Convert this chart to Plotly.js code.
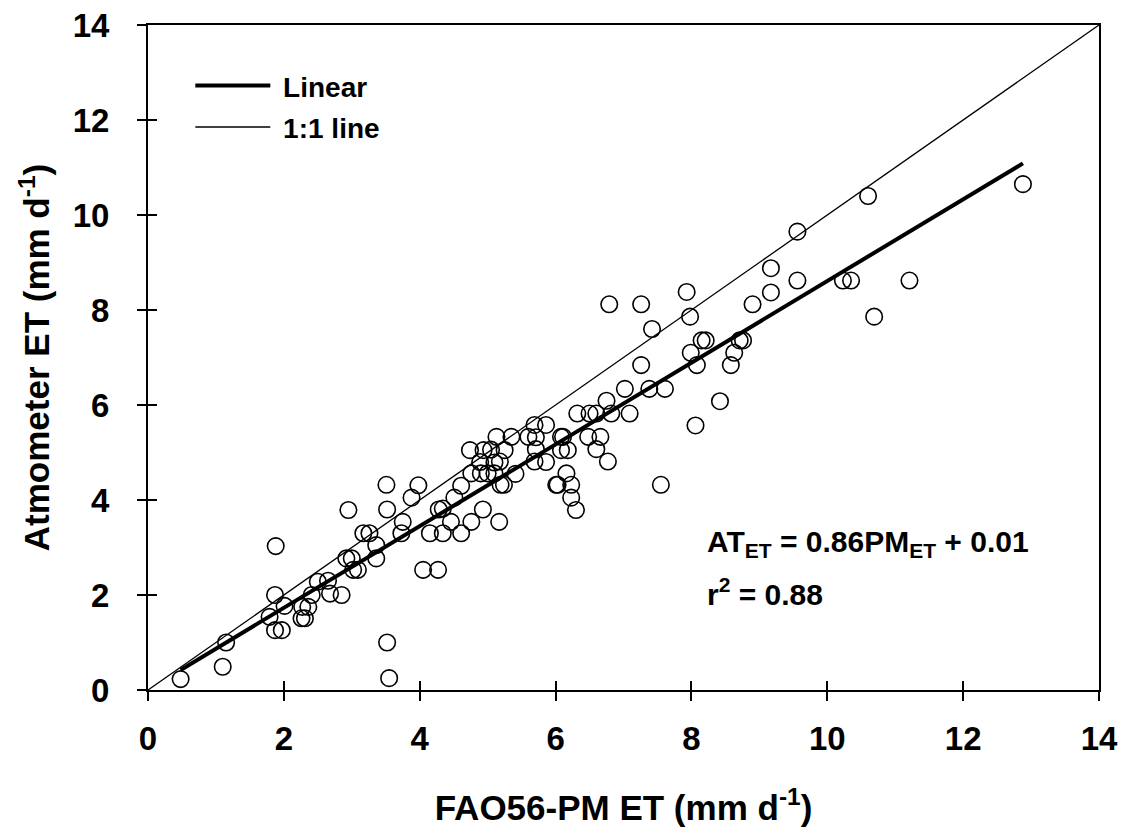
<!DOCTYPE html>
<html>
<head>
<meta charset="utf-8">
<script src="https://cdn.plot.ly/plotly-3.0.1.min.js"></script>
<style>html,body{margin:0;padding:0;background:#fff;}#chart{width:1124px;height:830px;}</style>
</head>
<body>
<div id="chart"></div>
<script>
// FAO56-PM ET (x) vs Atmometer ET (y), mm d-1
const pmET = [
  0.48,1.10,1.15,1.79,1.87,1.97,1.87,1.88,2.01,2.26,2.31,2.27,2.36,2.41,2.50,2.65,2.68,2.85,2.92,3.00,3.02,3.09,2.95,3.17,3.26,3.36,3.36,3.51,3.52,3.52,3.55,
  3.73,3.75,3.88,3.98,4.05,4.27,4.15,4.34,4.28,4.34,4.46,4.51,4.61,4.61,4.76,4.93,5.17,
  4.74,4.94,5.05,5.25,5.13,5.35,4.89,5.10,5.18,4.76,4.90,5.00,5.10,5.19,5.24,5.41,5.60,5.71,5.71,5.69,5.86,5.69,5.86,6.01,6.03,
  6.08,6.11,6.08,6.18,6.16,6.23,6.23,6.30,6.32,6.50,6.60,6.82,7.09,6.75,6.48,6.66,6.60,6.77,7.02,7.26,7.38,7.61,7.42,6.79,7.26,7.55,
  7.93,7.98,7.99,8.08,8.15,8.21,8.06,8.42,8.58,8.63,8.71,8.76,8.90,9.17,9.17,9.56,9.56,10.23,10.35,10.60,10.69,11.21,12.88
];
const atET = [
  0.23,0.49,1.00,1.54,1.26,1.26,2.00,3.03,1.77,1.51,1.51,1.75,1.75,2.00,2.28,2.30,2.03,2.00,2.77,2.77,2.53,2.53,3.79,3.30,3.30,3.05,2.77,4.32,3.80,1.00,0.25,
  3.30,3.54,4.05,4.31,2.53,2.53,3.30,3.30,3.80,3.82,3.54,4.05,4.30,3.30,3.54,3.80,3.54,
  5.05,5.05,5.06,5.05,5.33,5.33,4.80,4.79,4.81,4.56,4.56,4.56,4.56,4.32,4.32,4.55,5.33,5.32,5.07,5.58,5.58,4.81,4.80,4.32,4.32,
  5.33,5.33,5.05,5.05,4.56,4.32,4.05,3.79,5.82,5.82,5.82,5.82,5.82,6.09,5.33,5.33,5.07,4.81,6.34,6.84,6.34,6.34,7.60,8.12,8.12,4.32,
  8.38,7.86,7.10,6.84,7.36,7.36,5.57,6.08,6.84,7.10,7.36,7.36,8.12,8.37,8.88,8.62,9.65,8.62,8.62,10.40,7.86,8.62,10.65
];
// regression from the chart: AT_ET = 0.86 PM_ET + 0.01
const slope = 0.86, intercept = 0.01;
const oneToOne = [0, 14];
const axisTicks = [0, 2, 4, 6, 8, 10, 12, 14];

const xMin = Math.min(...pmET), xMax = Math.max(...pmET);
const fitX = [xMin, xMax];
const fitY = fitX.map(v => slope * v + intercept);

const FONT = 'Liberation Sans, Arial, Helvetica, sans-serif';

const traces = [
  {x: fitX, y: fitY, mode: 'lines', name: '\u00a0<b>Linear</b>', legendgroup: 'a',
   line: {color: '#000', width: 4}, hoverinfo: 'skip'},
  {x: oneToOne, y: oneToOne, mode: 'lines', name: '\u00a0<b>1:1 line</b>', legendgroup: 'b',
   line: {color: '#000', width: 1.3}, hoverinfo: 'skip'},
  {x: pmET, y: atET, mode: 'markers', name: 'data', showlegend: false,
   marker: {symbol: 'circle-open', size: 16.5, color: '#000', line: {width: 1.6, color: '#000'}}},
  {x: [null], y: [null], xaxis: 'x2', yaxis: 'y2', mode: 'markers', showlegend: false, hoverinfo: 'skip'}
];

const axBase = {range: [0, 14], tickvals: axisTicks, showgrid: false, zeroline: false,
  tickwidth: 2, ticklen: 9, tickcolor: '#000', fixedrange: true};

const layout = {
  width: 1124, height: 830,
  margin: {l: 148, r: 25, t: 25, b: 140},
  paper_bgcolor: '#fff', plot_bgcolor: '#fff',
  font: {family: FONT, color: '#000'},
  showlegend: true,
  legend: {x: 0.0445, y: 0.946, xanchor: 'left', yanchor: 'top', bgcolor: 'rgba(0,0,0,0)',
    font: {family: FONT, size: 28, color: '#000'}, itemwidth: 75, traceorder: 'grouped', tracegroupgap: 2},
  xaxis: Object.assign({}, axBase, {ticks: 'outside', showline: true, linecolor: '#000', linewidth: 2, mirror: true,
    tickfont: {family: FONT, size: 33, color: '#000', weight: 'bold'}, ticklabelstandoff: 9,
    title: {text: '<b>FAO56-PM ET (mm d<sup>-1</sup>)</b>', font: {family: FONT, size: 35, color: '#000'}, standoff: 40}}),
  yaxis: Object.assign({}, axBase, {ticks: 'outside', showline: true, linecolor: '#000', linewidth: 2, mirror: true,
    tickfont: {family: FONT, size: 33, color: '#000', weight: 'bold'}, ticklabelstandoff: 21,
    title: {text: '<b>Atmometer ET (mm d<sup>-1</sup>)</b>', font: {family: FONT, size: 35, color: '#000'}, standoff: 12}}),
  xaxis2: Object.assign({}, axBase, {overlaying: 'x', anchor: 'y2', side: 'bottom', ticks: 'inside', showticklabels: false, showline: false}),
  yaxis2: Object.assign({}, axBase, {overlaying: 'y', anchor: 'x2', side: 'left', ticks: 'inside', showticklabels: false, showline: false}),
  annotations: [
    {xref: 'x', yref: 'y', x: 8.2, y: 3.09, xanchor: 'left', yanchor: 'middle', showarrow: false,
     text: '<b>AT<sub>ET</sub> = 0.86PM<sub>ET</sub> + 0.01</b>', font: {family: FONT, size: 30, color: '#000'}},
    {xref: 'x', yref: 'y', x: 8.2, y: 2.06, xanchor: 'left', yanchor: 'middle', showarrow: false,
     text: '<b>r<sup>2</sup> = 0.88</b>', font: {family: FONT, size: 30, color: '#000'}}
  ]
};

Plotly.newPlot('chart', traces, layout, {staticPlot: true, displayModeBar: false});
</script>
</body>
</html>
